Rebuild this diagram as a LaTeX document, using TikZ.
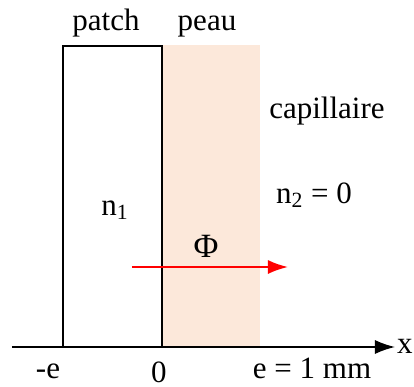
\documentclass[tikz,border=0pt]{standalone}
\usepackage{fontspec}
\setmainfont{Liberation Serif}
\usetikzlibrary{arrows.meta}
\definecolor{skin}{RGB}{252,232,218}
\tikzset{lbl/.style={anchor=base, inner sep=0pt, font=\fontsize{15.5}{18}\selectfont}}

\begin{document}
\begin{tikzpicture}[x=0.5pt, y=-0.5pt]
\useasboundingbox (0,0) rectangle (414,387);
\fill[skin] (162,45) rectangle (260,347);
\draw[line width=1pt] (63,347) rectangle (162,46);
\coordinate (xa) at (12,347);
\coordinate (xb) at (395,347);
\draw[line width=0.75pt, -{Latex[length=10pt,width=7pt]}] (xa) -- (xb);
\node[lbl] (xlab) at (405,353) {x};
\node[lbl] (patch) at (106,30) {patch};
\node[lbl] (peau) at (207,30) {peau};
\node[lbl] (capi) at (327,118) {capillaire};
\node[lbl] (n1) at (115,215) {n\textsubscript{1}};
\node[lbl] (n2) at (314,203) {n\textsubscript{2} = 0};
\node[lbl] (phi) at (206,257) {\fontsize{17}{18}\selectfont Φ};
\node[lbl] (me) at (48,378) {-e};
\node[lbl] (zero) at (159,382) {0};
\node[lbl] (ee) at (312,378) {e = 1 mm};
\coordinate (fa) at (132,267);
\coordinate (fb) at (288,267);
\draw[red, line width=1pt, -{Latex[length=10pt,width=7pt]}] (fa) -- (fb);
\end{tikzpicture}
\end{document}
